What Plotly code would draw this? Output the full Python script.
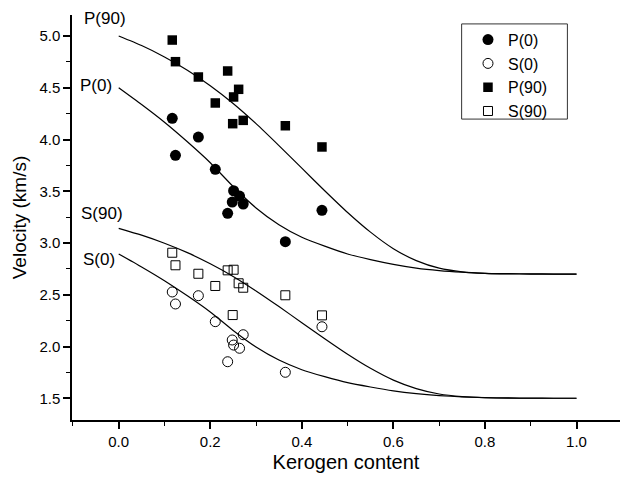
import plotly.graph_objects as go

# ---- measured data ----
p0_x = [0.117, 0.124, 0.174, 0.211, 0.251, 0.264, 0.248, 0.272, 0.238, 0.444, 0.364]
p0_y = [4.205, 3.847, 4.024, 3.712, 3.505, 3.454, 3.396, 3.377, 3.287, 3.316, 3.013]

s0_x = [0.117, 0.124, 0.174, 0.211, 0.272, 0.248, 0.251, 0.264, 0.238, 0.444, 0.364]
s0_y = [2.527, 2.411, 2.491, 2.240, 2.114, 2.063, 2.014, 1.983, 1.853, 2.191, 1.751]

p90_x = [0.117, 0.124, 0.174, 0.238, 0.262, 0.251, 0.211, 0.249, 0.272, 0.364, 0.444]
p90_y = [4.961, 4.752, 4.604, 4.662, 4.485, 4.411, 4.353, 4.153, 4.185, 4.133, 3.928]

s90_x = [0.117, 0.124, 0.174, 0.211, 0.238, 0.251, 0.262, 0.272, 0.249, 0.364, 0.444]
s90_y = [2.906, 2.785, 2.703, 2.585, 2.736, 2.742, 2.611, 2.568, 2.304, 2.495, 2.301]

# model curves (every 0.05 in kerogen content)
curve_x = [0.00, 0.05, 0.10, 0.15, 0.20, 0.25, 0.30, 0.35, 0.40, 0.45, 0.50,
           0.55, 0.60, 0.65, 0.70, 0.75, 0.80, 0.85, 0.90, 0.95, 1.00]
curve_p90 = [5.000, 4.908, 4.798, 4.670, 4.520, 4.348, 4.153, 3.941, 3.723, 3.505, 3.295,
             3.105, 2.945, 2.830, 2.757, 2.722, 2.707, 2.702, 2.700, 2.700, 2.700]
curve_p0 = [4.500, 4.338, 4.167, 3.978, 3.776, 3.546, 3.339, 3.177, 3.056, 2.970, 2.894,
            2.840, 2.794, 2.758, 2.734, 2.718, 2.707, 2.704, 2.702, 2.700, 2.700]
curve_s90 = [3.142, 3.076, 2.998, 2.907, 2.799, 2.677, 2.537, 2.386, 2.230, 2.075, 1.925,
             1.789, 1.675, 1.593, 1.541, 1.516, 1.505, 1.501, 1.500, 1.500, 1.500]
curve_s0 = [2.894, 2.769, 2.636, 2.490, 2.334, 2.155, 1.995, 1.869, 1.776, 1.709, 1.651,
            1.609, 1.572, 1.545, 1.526, 1.514, 1.506, 1.503, 1.501, 1.500, 1.500]

curve_names = ["P(90)", "P(0)", "S(90)", "S(0)"]

FONT = "Arial, Liberation Sans, sans-serif"

fig = go.Figure()

for cy in [curve_p90, curve_p0, curve_s90, curve_s0]:
    fig.add_trace(go.Scatter(x=curve_x, y=cy, mode="lines", showlegend=False,
                             line=dict(color="black", width=1.2, shape="spline", smoothing=0.6),
                             hoverinfo="skip"))

fig.add_trace(go.Scatter(x=p0_x, y=p0_y, mode="markers", name="P(0)",
                         marker=dict(symbol="circle", size=11, color="black")))
fig.add_trace(go.Scatter(x=s0_x, y=s0_y, mode="markers", name="S(0)",
                         marker=dict(symbol="circle-open", size=10, color="black",
                                     line=dict(width=1, color="black"))))
fig.add_trace(go.Scatter(x=p90_x, y=p90_y, mode="markers", name="P(90)",
                         marker=dict(symbol="square", size=9.5, color="black")))
fig.add_trace(go.Scatter(x=s90_x, y=s90_y, mode="markers", name="S(90)",
                         marker=dict(symbol="square-open", size=9, color="black",
                                     line=dict(width=1, color="black"))))

label_pos = [(-0.030, 5.174), (-0.049, 4.525), (-0.036, 3.290), (-0.042, 2.836)]
for name, (lx, ly) in zip(curve_names, label_pos):
    fig.add_annotation(x=lx, y=ly, text=name, showarrow=False, xanchor="center", yanchor="middle",
                       font=dict(family=FONT, size=17, color="black"))

# legend frame
fig.add_shape(type="rect", xref="paper", yref="paper", x0=0.711, x1=0.904, y0=0.743, y1=0.978,
              line=dict(color="#333", width=1), fillcolor="white", layer="below")

fig.update_layout(
    width=620, height=477,
    margin=dict(l=72, r=0, t=15, b=57),
    paper_bgcolor="white", plot_bgcolor="white",
    font=dict(family=FONT, size=15, color="black"),
    legend=dict(x=0.7226, y=0.981, xanchor="left", yanchor="top",
                borderwidth=0, bgcolor="rgba(0,0,0,0)",
                font=dict(family=FONT, size=16), itemsizing="trace",
                tracegroupgap=0),
    xaxis=dict(range=[-0.102, 1.095], showgrid=False, zeroline=False,
               showline=True, linecolor="black", linewidth=1.5,
               ticks="outside", ticklen=7, tickwidth=1.5, tickcolor="black",
               tick0=0, dtick=0.2, tickformat=".1f",
               minor=dict(ticks="outside", ticklen=4, tickwidth=1.2, tickcolor="black", dtick=0.1),
               title=dict(text="Kerogen content", font=dict(size=20), standoff=6)),
    yaxis=dict(range=[1.29, 5.203], showgrid=False, zeroline=False,
               showline=True, linecolor="black", linewidth=1.5,
               ticks="outside", ticklen=7, tickwidth=1.5, tickcolor="black",
               tick0=1.5, dtick=0.5, tickformat=".1f",
               minor=dict(ticks="outside", ticklen=4, tickwidth=1.2, tickcolor="black", dtick=0.25),
               title=dict(text="Velocity (km/s)", font=dict(size=19), standoff=8)),
)

fig.write_html("out.html")
